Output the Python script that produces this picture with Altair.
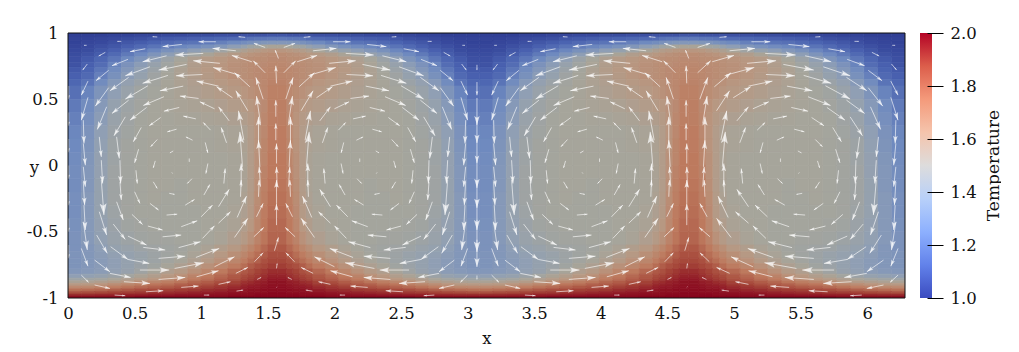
import math
import altair as alt
import pandas as pd

FONT = "DejaVu Serif"
INK = "#111111"
W, H = 837, 265
XMAX = 6.2832

x_edges = [0, .1, .2, .3, .4, .5, .6, .7, .8, .9, 1.0, 1.1, 1.2, 1.3, 1.35, 1.4, 1.45, 1.5, 1.5708]
y_edges = [1, .97, .94, .91, .88, .85, .82, .78, .74, .7, .65, .6, .5, .4, .3, .2, .1, 0,
           -.1, -.2, -.3, -.4, -.5, -.6, -.65, -.7, -.74, -.78, -.82, -.85,
           -.87, -.89, -.91, -.93, -.95, -.97, -.985, -1]
# x positions of the plumes seen in the picture: down, up, down, up, down
plumes = [0, 1.57, 3.09, 4.66, 6.2832]

# Temperature, (T - 1) * 100, one quarter-wave from down plume to up plume
temp_rows = [
    [2, 2, 2, 3, 3, 4, 4, 5, 5, 6, 6, 7, 7, 8, 8, 8, 8, 9],
    [3, 3, 4, 5, 6, 7, 9, 10, 11, 12, 13, 14, 15, 16, 18, 19, 19, 20],
    [3, 4, 5, 7, 9, 11, 13, 15, 17, 18, 20, 22, 25, 27, 29, 31, 32, 33],
    [4, 5, 7, 9, 12, 15, 18, 21, 24, 26, 29, 32, 37, 41, 45, 47, 50, 52],
    [5, 6, 9, 12, 16, 20, 24, 29, 33, 37, 41, 46, 51, 55, 58, 60, 62, 63],
    [6, 8, 11, 15, 20, 25, 31, 37, 42, 47, 52, 57, 60, 62, 64, 65, 66, 67],
    [7, 10, 14, 19, 25, 31, 38, 44, 50, 55, 59, 62, 64, 65, 66, 67, 67, 68],
    [8, 12, 16, 23, 30, 36, 42, 47, 52, 57, 60, 63, 65, 66, 67, 67, 68, 69],
    [10, 13, 19, 26, 33, 39, 44, 49, 54, 58, 61, 63, 65, 66, 67, 68, 69, 70],
    [12, 15, 22, 29, 36, 41, 46, 50, 54, 57, 60, 63, 65, 66, 67, 68, 69, 70],
    [14, 18, 26, 34, 40, 44, 48, 51, 54, 56, 59, 61, 63, 65, 66, 68, 69, 71],
    [17, 23, 31, 38, 43, 47, 49, 51, 53, 55, 57, 59, 61, 63, 65, 67, 69, 72],
    [20, 26, 34, 41, 45, 48, 50, 51, 52, 53, 54, 56, 58, 60, 62, 65, 68, 73],
    [22, 28, 36, 43, 46, 49, 50, 50, 51, 51, 52, 53, 55, 57, 60, 64, 69, 73],
    [24, 30, 38, 44, 47, 49, 50, 50, 50, 50, 50, 51, 52, 54, 58, 64, 69, 74],
    [25, 31, 39, 45, 48, 49, 50, 50, 50, 50, 50, 51, 52, 54, 58, 64, 70, 74],
    [26, 32, 40, 45, 48, 49, 50, 50, 50, 50, 50, 50, 51, 53, 58, 65, 70, 75],
    [27, 33, 40, 46, 48, 49, 50, 50, 50, 50, 50, 50, 51, 53, 58, 65, 71, 75],
    [27, 33, 41, 46, 48, 49, 50, 50, 49, 50, 50, 50, 51, 53, 58, 66, 72, 76],
    [28, 34, 41, 46, 48, 49, 50, 49, 49, 50, 50, 50, 51, 54, 59, 67, 73, 77],
    [28, 34, 41, 45, 48, 49, 49, 49, 49, 49, 50, 50, 52, 55, 60, 68, 74, 78],
    [29, 34, 40, 44, 47, 48, 49, 49, 49, 49, 50, 51, 53, 57, 62, 69, 75, 79],
    [30, 34, 39, 43, 45, 47, 48, 48, 49, 49, 50, 52, 56, 60, 65, 71, 76, 80],
    [30, 33, 37, 41, 43, 45, 46, 47, 48, 50, 53, 57, 61, 66, 70, 75, 79, 83],
    [31, 33, 36, 39, 41, 43, 45, 47, 49, 52, 56, 61, 66, 70, 74, 78, 82, 85],
    [31, 33, 35, 38, 41, 43, 45, 48, 51, 55, 60, 65, 70, 74, 78, 81, 85, 87],
    [31, 33, 35, 38, 41, 44, 47, 51, 55, 60, 65, 70, 74, 78, 82, 85, 87, 89],
    [33, 34, 36, 39, 42, 46, 51, 56, 60, 65, 70, 75, 79, 83, 85, 88, 90, 92],
    [38, 39, 41, 44, 48, 53, 57, 62, 66, 71, 75, 79, 83, 86, 88, 90, 92, 94],
    [45, 46, 48, 51, 55, 59, 63, 67, 71, 75, 78, 82, 85, 88, 90, 92, 94, 96],
    [53, 54, 56, 59, 62, 66, 70, 73, 76, 79, 82, 85, 88, 91, 92, 94, 95, 97],
    [61, 62, 64, 67, 70, 73, 76, 78, 81, 83, 85, 88, 90, 93, 94, 95, 96, 97],
    [69, 70, 72, 74, 77, 79, 81, 83, 85, 87, 89, 91, 93, 95, 96, 96, 97, 98],
    [77, 78, 79, 81, 83, 85, 86, 88, 89, 90, 92, 93, 95, 96, 97, 97, 98, 98],
    [85, 86, 87, 88, 89, 90, 91, 92, 93, 94, 95, 96, 97, 97, 98, 98, 98, 99],
    [92, 92, 93, 93, 94, 94, 95, 95, 96, 96, 97, 97, 98, 98, 98, 99, 99, 99],
    [98, 98, 98, 98, 98, 99, 99, 99, 99, 99, 99, 99, 100, 100, 100, 100, 100, 100],
]

# Velocity glyphs of the first roll: tail x, tail y, tip x, tip y
arrows = [
    (.40, .937, .37, .937), (.67, .97, .635, .972), (.14, .907, .12, .907), (.855, .914, .71, .897),
    (1.11, .934, .98, .934), (.58, .881, .465, .859), (.28, .854, .23, .826), (1.33, .967, 1.28, .972),
    (1.26, .866, 1.085, .884), (1.48, .891, 1.395, .922), (1.015, .846, .805, .834), (.74, .828, .56, .783),
    (.45, .801, .33, .753), (.145, .766, .11, .72), (1.38, .783, 1.23, .831), (1.48, .70, 1.39, .791),
    (1.14, .771, .94, .791), (.89, .763, .68, .72), (.615, .745, .43, .677), (.305, .718, .21, .64),
    (1.285, .682, 1.09, .74), (1.365, .594, 1.25, .70), (1.01, .687, .81, .677), (.75, .68, .56, .62),
    (.455, .665, .315, .564), (.15, .637, .10, .531), (1.235, .511, 1.115, .594), (1.13, .599, .965, .637),
    (.865, .599, .69, .564), (.60, .602, .43, .501), (.305, .587, .205, .448), (.15, .514, .10, .342),
    (1.465, .501, 1.41, .665), (1.35, .413, 1.26, .564), (.98, .506, .84, .524), (.72, .519, .565, .453),
    (.455, .493, .33, .393), (.29, .443, .22, .272), (1.10, .428, .99, .481), (.835, .438, .72, .41),
    (.59, .438, .465, .342), (.43, .367, .345, .224), (.115, .342, .12, .166), (.115, .166, .13, .002),
    (.115, -.01, .13, -.16),
    (1.565, .62, 1.56, .753), (1.56, .368, 1.56, .493), (1.56, .191, 1.56, .317), (1.565, .015, 1.565, .166),
    (1.57, -.16, 1.565, -.01), (1.58, .808, 1.555, .871),
    (1.445, .317, 1.415, .524), (1.43, .166, 1.43, .368), (1.44, -.01, 1.43, .191), (1.445, -.16, 1.435, -.01),
    (1.32, .191, 1.28, .413), (1.31, -.01, 1.29, .254), (1.30, -.16, 1.30, .015),
    (1.19, .171, 1.15, .287), (1.17, -.136, 1.18, -.023), (1.21, .337, 1.13, .443), (1.07, .267, 1.015, .325),
    (.96, .352, .865, .373), (.815, .274, .745, .254), (.695, .362, .61, .30), (.55, .287, .49, .179),
    (.365, .216, .385, .053), (.39, .04, .395, -.136), (.235, .216, .25, .065), (.25, .04, .26, -.136),
    (.935, .191, .885, .216), (.67, .196, .62, .141), (.79, .11, .765, .095), (.53, .123, .50, .02),
    (1.03, .174, 1.05, .095), (.655, .035, .64, -.018), (.91, .053, .91, .028), (1.05, .015, 1.035, -.061),
    (.51, -.036, .52, -.136), (.78, -.053, .785, -.06), (.93, -.10, .895, -.136),
    (.115, -.123, .125, -.30), (.12, -.30, .13, -.487), (.115, -.424, .145, -.638), (.10, -.626, .15, -.76),
    (.10, -.827, .155, -.882), (.25, -.11, .27, -.374), (.235, -.349, .29, -.525), (.215, -.525, .295, -.663),
    (.20, -.714, .315, -.802), (.20, -.902, .315, -.928), (.39, -.123, .40, -.26), (.365, -.274, .415, -.412),
    (.34, -.442, .43, -.558), (.32, -.613, .45, -.709), (.315, -.814, .47, -.845), (.42, -.877, .615, -.89),
    (.35, -.978, .43, -.983), (.50, -.198, .54, -.286), (.48, -.369, .56, -.445), (.45, -.533, .59, -.60),
    (.565, -.618, .73, -.638), (.45, -.709, .61, -.739), (.54, -.789, .76, -.789), (.585, -.953, .715, -.945),
    (.615, -.286, .68, -.336), (.60, -.457, .71, -.487), (.71, -.538, .85, -.525), (.83, -.62, .995, -.575),
    (.68, -.701, .88, -.684), (.80, -.777, 1.02, -.734), (.68, -.86, .88, -.845), (.85, -.92, .98, -.91),
    (1.02, -.978, 1.06, -.978), (.64, -.123, .67, -.173), (.76, -.21, .80, -.218), (.74, -.374, .82, -.367),
    (.85, -.462, .97, -.417), (.96, -.694, 1.135, -.626), (.965, -.84, 1.13, -.794), (1.13, -.897, 1.22, -.877),
    (1.265, -.948, 1.315, -.94), (.88, -.299, .95, -.256), (1.00, -.387, 1.085, -.299), (1.01, -.55, 1.10, -.455),
    (1.13, -.435, 1.22, -.349),
    (1.13, -.311, 1.21, -.18), (1.02, -.223, 1.065, -.143), (1.10, -.764, 1.25, -.689), (1.25, -.543, 1.35, -.399),
    (1.26, -.814, 1.35, -.769), (1.40, -.726, 1.465, -.658), (1.42, -.86, 1.45, -.845), (1.27, -.392, 1.34, -.231),
    (1.395, -.538, 1.47, -.467), (1.415, -.387, 1.465, -.286), (1.43, -.236, 1.435, -.11), (1.295, -.236, 1.30, -.11),
    (1.55, -.643, 1.58, -.543), (1.565, -.777, 1.57, -.739), (1.565, -.92, 1.57, -.915),
    (1.565, -.45, 1.565, -.286), (1.565, -.286, 1.565, -.11),
]
# Glyphs on the downward plume near x=3.07 and the faint stubs on the left edge
plume_arrows = [
    (3.07, .76, 3.07, .72), (3.07, .63, 3.07, .53), (3.07, .51, 3.07, .306), (3.07, .36, 3.07, .17),
    (3.07, .19, 3.07, .018), (3.07, .04, 3.07, -.17), (3.07, -.11, 3.07, -.32), (3.07, -.26, 3.07, -.487),
    (3.07, -.41, 3.07, -.653), (3.07, -.56, 3.07, -.766), (3.07, -.83, 3.07, -.86),
]
edge_arrows = [
    (.005, .6, .005, .5), (.005, .4, .005, .3), (.005, .2, .005, .1), (.005, 0, .005, -.1),
    (.005, -.2, .005, -.3), (.005, -.4, .005, -.5), (.005, -.6, .005, -.7),
]

x_ticks = [0, .5, 1, 1.5, 2, 2.5, 3, 3.5, 4, 4.5, 5, 5.5, 6]
y_ticks = [-1, -.5, 0, .5, 1]
bar_ticks = [1.0, 1.2, 1.4, 1.6, 1.8, 2.0]
t_stops = [1, 1.125, 1.25, 1.375, 1.5, 1.625, 1.75, 1.875, 2]
shaded_colors = ["#2c3990", "#4a62b0", "#6f8abf", "#8f9fb5", "#a6a59b", "#b89781", "#bd7a5e", "#a54638", "#87031d"]
bar_colors = ["#3b4cc0", "#6282ea", "#8db0fe", "#b8d0f9", "#dddcdc", "#f5c4ac", "#f49a7b", "#dc5e4b", "#b40426"]

cells = []
for tile in range(4):
    left, right = plumes[tile], plumes[tile + 1]
    scale = (right - left) / x_edges[-1]
    for j, row in enumerate(temp_rows):
        for i, v in enumerate(row):
            a, b = x_edges[i], x_edges[i + 1]
            if tile % 2:
                a, b = right - b * scale, right - a * scale
            else:
                a, b = left + a * scale, left + b * scale
            cells.append({"x0": a, "x1": b, "y0": y_edges[j], "y1": y_edges[j + 1], "T": 1 + v / 100})
cells = pd.DataFrame(cells)

glyphs = []
def add(x0, y0, x1, y1):
    dx, dy = (x1 - x0) * W / XMAX, (y1 - y0) * H / 2
    length = math.hypot(dx, dy)
    glyphs.append({"x0": x0, "y0": y0, "x1": x1, "y1": y1,
                   "ang": math.degrees(math.atan2(dx, dy)) % 360,
                   "head": 4 * (0.33 * length) ** 2})
for a in plume_arrows + edge_arrows:
    add(*a)
for x0, y0, x1, y1 in arrows:
    add(x0, y0, x1, y1)
    add(x0 + 3.08, y0, x1 + 3.08, y1)
    if min(x0, x1) < 1.54:
        add(3.1 - x0, y0, 3.1 - x1, y1)
        add(6.34 - 1.09 * x0, y0, 6.34 - 1.09 * x1, y1)
glyphs = pd.DataFrame(glyphs)

xs = alt.Scale(domain=[0, XMAX], nice=False, zero=False)
ys = alt.Scale(domain=[-1, 1], nice=False, zero=False)
t_scale = alt.Scale(domain=t_stops, range=shaded_colors, interpolate="rgb")

field = alt.Chart(cells).mark_rect(clip=True, strokeWidth=0.7).encode(
    x=alt.X("x0:Q", scale=xs, axis=alt.Axis(
        values=x_ticks, grid=False, ticks=False, domain=False, title="x",
        format="~g", labelFlush=False, labelPadding=7, titlePadding=9, labelOverlap=False)),
    x2="x1:Q",
    y=alt.Y("y0:Q", scale=ys, axis=alt.Axis(
        values=y_ticks, grid=False, ticks=False, domain=False, title="y", format="~g",
        labelExpr="replace(datum.label, '\u2212', '-')",
        labelFlush=False, labelPadding=10, titleAngle=0, titleAlign="center", titleBaseline="middle",
        titleX=-34, titleY=134, labelOverlap=False)),
    y2="y1:Q",
    color=alt.Color("T:Q", scale=t_scale, legend=None),
    stroke=alt.Stroke("T:Q", scale=t_scale, legend=None),
)

shafts = alt.Chart(glyphs).mark_rule(clip=True, color="white", opacity=0.62, strokeWidth=1).encode(
    x=alt.X("x0:Q", scale=xs), x2="x1:Q", y=alt.Y("y0:Q", scale=ys), y2="y1:Q")

heads = alt.Chart(glyphs).mark_point(
    clip=True, filled=True, color="white", opacity=0.7, strokeWidth=0,
    shape="M0,0 L-0.3,1 L0,0.8 L0.3,1 Z",
).encode(
    x=alt.X("x1:Q", scale=xs), y=alt.Y("y1:Q", scale=ys),
    angle=alt.Angle("ang:Q", scale=None), size=alt.Size("head:Q", scale=None),
)

frame = alt.Chart(pd.DataFrame({"a": [0]})).mark_rect(filled=False, stroke="#111111", strokeWidth=1).encode(
    x=alt.value(0), x2=alt.value(W), y=alt.value(0), y2=alt.value(H))

main = alt.layer(field, shafts, heads, frame).properties(width=W, height=H)

stops = [alt.GradientStop(offset=(t - 1), color=c) for t, c in zip(t_stops, bar_colors)]
bar = alt.Chart(pd.DataFrame({"lo": [1.0], "hi": [2.0]})).mark_rect(
    fill=alt.LinearGradient(gradient="linear", x1=0, y1=1, x2=0, y2=0, stops=stops)
).encode(
    x=alt.value(0), x2=alt.value(12),
    y=alt.Y("lo:Q", scale=alt.Scale(domain=[1, 2], nice=False, zero=False), axis=alt.Axis(
        orient="right", values=bar_ticks, format=".1f", grid=False, domain=False, offset=-5,
        tickSize=16, tickColor="black", tickWidth=1, labelPadding=7, title="Temperature",
        titleAngle=270, titleAlign="center", titleBaseline="middle", titleX=66, titleY=132,
        titleFontSize=17, labelFlush=False, labelOverlap=False, zindex=1)),
    y2="hi:Q",
).properties(width=12, height=H)

chart = alt.hconcat(main, bar, spacing=14, padding={"left": 18, "top": 17, "right": 0, "bottom": 0},
                    background="white").configure_view(
    stroke=None
).configure_axis(
    labelFont=FONT, titleFont=FONT, labelFontSize=16.5, titleFontSize=16.5, labelColor=INK, titleColor=INK,
    titleFontWeight="normal",
)

chart.save("out.html", embed_options={"renderer": "svg", "actions": False})
